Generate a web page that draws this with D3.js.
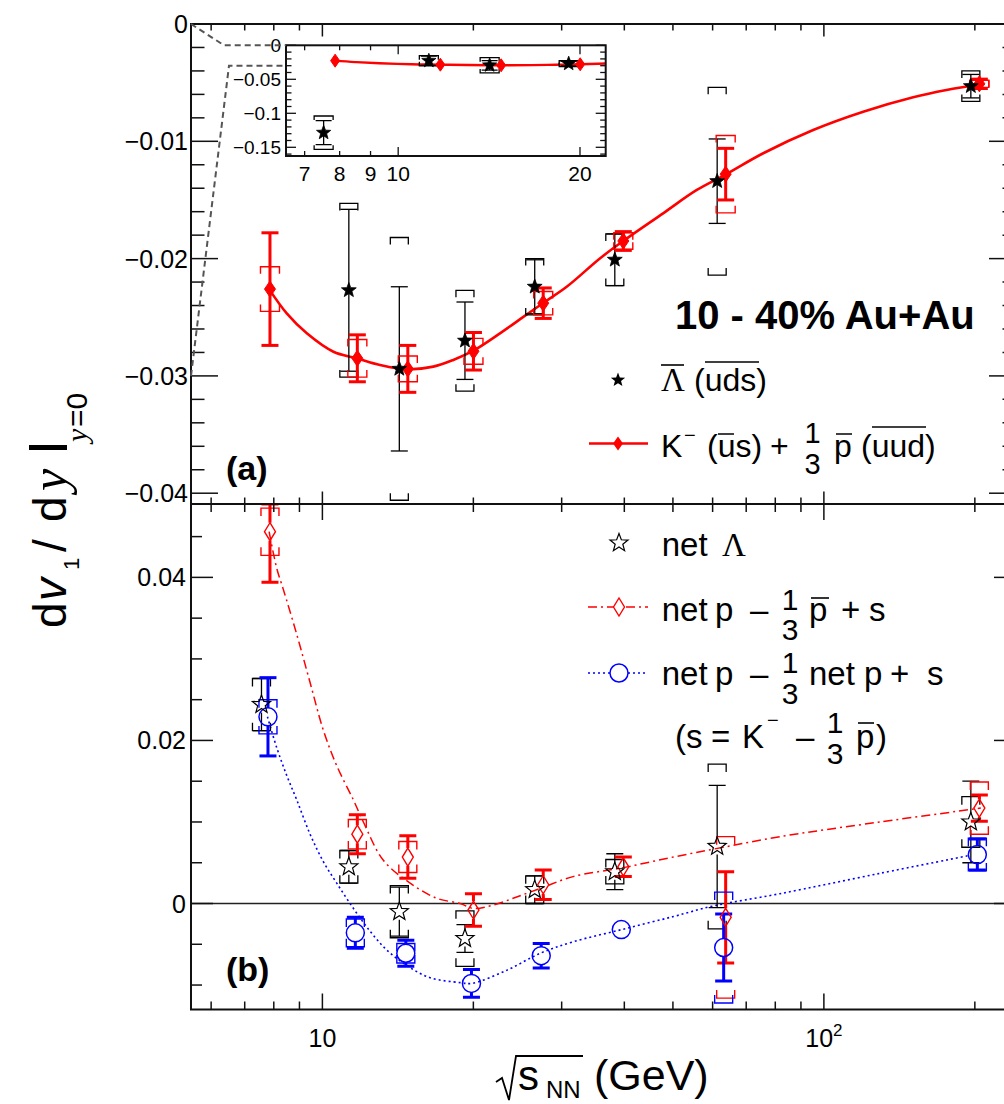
<!DOCTYPE html>
<html><head><meta charset="utf-8">
<script src="https://cdn.jsdelivr.net/npm/d3@7"></script>
<style>body{margin:0;background:#fff}svg{display:block;overflow:hidden}</style>
</head><body><svg id="c" width="1004" height="1104"></svg>
<script>
// ---------------- DATA ----------------
const energies = [7.7, 11.5, 14.5, 19.6, 27, 39, 62.4, 200];
// panel (a): anti-Lambda
const lambdaBar     = [-0.1285, -0.0227, -0.0294, -0.0270, -0.0224, -0.0201, -0.0134, -0.0053];
const lambdaBarStat = [0.0177, 0.0069, 0.0070, 0.0033, 0.0023, 0.0022, 0.0036, 0.0010];
const lambdaBarSys  = [0.0245, 0.0074, 0.0112, 0.0043, 0.0024, 0.0022, 0.0080, 0.0013];
// panel (a): K- + 1/3 pbar
const kPbar     = [-0.0226, -0.0285, -0.0294, -0.0279, -0.0238, -0.0185, -0.0128, -0.0051];
const kPbarStat = [0.0048, 0.0020, 0.0020, 0.0016, 0.0013, 0.0008, 0.0022, 0.0004];
const kPbarSys  = [0.0019, 0.0016, 0.0011, 0.0011, 0.0010, 0.0007, 0.0033, 0.0003];
// panel (a): smooth curve through K- + 1/3 pbar
const fitAE = [7.83, 8.49, 9.31, 10.52, 11.71, 13.03, 14.73, 16.64, 18.24, 20.0, 22.6, 25.2, 27.6, 30.7, 35.8, 39.8, 47.8, 55.8, 63.8, 75.7, 95.2, 119.8, 150.7, 175.6, 205.6];
const fitAV = [-0.0226, -0.02467, -0.02637, -0.02794, -0.0285, -0.02907, -0.02944, -0.02921, -0.02864, -0.02785, -0.02637, -0.02495, -0.02376, -0.0224, -0.01997, -0.0185, -0.01614, -0.01415, -0.01281, -0.01102, -0.00904, -0.00748, -0.00625, -0.00563, -0.00514];
// panel (b): net Lambda
const netLambda     = [0.0244, 0.0045, -0.0010, -0.0043, 0.0017, 0.0039, 0.0070, 0.0100];
const netLambdaStat = [0.0032, 0.0020, 0.0030, 0.0017, 0.0017, 0.0022, 0.0075, 0.0050];
const netLambdaSys  = [0.0032, 0.0020, 0.0032, 0.0034, 0.0017, 0.0015, 0.0101, 0.0031];
// panel (b): net p - 1/3 pbar + s
const netPpbar     = [0.0456, 0.0085, 0.0057, -0.0008, 0.0023, 0.0045, -0.0017, 0.0117];
const netPpbarStat = [0.0062, 0.0024, 0.0026, 0.0020, 0.0018, 0.0012, 0.0056, 0.0016];
const netPpbarSys  = [0.0029, 0.0018, 0.0019, 0.0008, 0.0010, 0.0008, 0.0099, 0.0032];
// panel (b): net p - 1/3 net p + s
const netPnetp     = [0.0229, -0.0036, -0.0061, -0.0098, -0.0064, -0.0032, -0.0054, 0.0060];
const netPnetpStat = [0.0048, 0.0019, 0.0016, 0.0017, 0.0015, 0.0006, 0.0041, 0.0019];
const netPnetpSys  = [0.0021, 0.0017, 0.0012, 0.0006, 0.0006, 0.0004, 0.0068, 0.0020];
// panel (b): curves
const fitRedE = [7.83, 8.11, 8.36, 8.89, 9.45, 10.05, 10.68, 11.53, 12.07, 13.23, 14.96, 16.90, 18.82, 20.0, 21.9, 24.4, 27.6, 31.6, 39.8, 50.1, 63.0, 81.7, 129.3, 205.6];
const fitRedV = [0.0456, 0.0411, 0.0385, 0.0330, 0.0271, 0.0212, 0.0169, 0.0127, 0.0100, 0.0053, 0.0025, 0.00065, 0.0000, -0.0006, -0.0002, 0.0008, 0.0020, 0.0033, 0.0044, 0.0057, 0.0069, 0.0082, 0.0100, 0.0117];
const fitBlueE = [7.77, 8.11, 8.49, 8.89, 9.45, 10.05, 10.68, 11.53, 12.45, 13.44, 14.73, 16.40, 18.82, 19.86, 23.3, 27.2, 31.6, 39.5, 50.1, 60.2, 81.7, 129.3, 195.4];
const fitBlueV = [0.0229, 0.0191, 0.0157, 0.0127, 0.0085, 0.0051, 0.0025, -0.0006, -0.0034, -0.0057, -0.0076, -0.0091, -0.0097, -0.0098, -0.0082, -0.0061, -0.0047, -0.0032, -0.0016, -0.0003, 0.0012, 0.0037, 0.0059];
// ticks
const xMajor = [10, 100];
const xMinor = [6, 7, 8, 9, 20, 30, 40, 50, 60, 70, 80, 90, 200];
const yaMajor = [0, -0.01, -0.02, -0.03, -0.04];
const yaLabels = ["0", "\u22120.01", "\u22120.02", "\u22120.03", "\u22120.04"];
const ybMajor = [0, 0.02, 0.04];
const ybLabels = ["0", "0.02", "0.04"];
const insetXMajor = [10, 20];
const insetXMinor = [7, 8, 9];
const insetXLabels = [[7, "7"], [8, "8"], [9, "9"], [10, "10"], [20, "20"]];
const insetYMajor = [0, -0.05, -0.1, -0.15];
const insetYLabels = ["0", "\u22120.05", "\u22120.1", "\u22120.15"];

// ---------------- LAYOUT ----------------
const FONT = '"Liberation Sans", Arial, Helvetica, sans-serif';
const SERIF = '"Liberation Serif", "Times New Roman", serif';
const RED = "#ff0000", BLUE = "#0000ff", BLACK = "#000";
const L = 191, R = 1016, TA = 24, MID = 504, BB = 1009.5;
const x = d3.scaleLog().domain([5.47, 241.6]).range([L, R]);
const ya = d3.scaleLinear().domain([-0.04092, 0]).range([MID, TA]);
const yb = d3.scaleLinear().domain([-0.0130, 0.0490]).range([BB, MID]);
const IL = 286, IR = 605.7, IT = 45.3, IB = 156;
const xi = d3.scaleLog().domain([6.52, 22.06]).range([IL, IR]);
const yi = d3.scaleLinear().domain([-0.1628, 0]).range([IB, IT]);

const svg = d3.select("#c");
const defs = svg.append("defs");
function clip(id, x0, y0, x1, y1) {
  defs.append("clipPath").attr("id", id).append("rect").attr("x", x0).attr("y", y0).attr("width", x1 - x0).attr("height", y1 - y0);
}
clip("ca", L, TA, R, MID); clip("cb", L, MID, R, BB); clip("ci", IL, IT, IR, IB);

function starPath(Ro, ri) {
  let p = "";
  for (let i = 0; i < 10; i++) {
    const a = -Math.PI / 2 + i * Math.PI / 5, r = i % 2 ? ri : Ro;
    p += (i ? "L" : "M") + (r * Math.cos(a)).toFixed(2) + "," + (r * Math.sin(a)).toFixed(2);
  }
  return p + "Z";
}
const diamondPath = (w, h) => `M0,${-h}L${w},0L0,${h}L${-w},0Z`;

function txt(g, xx, yy, s, o = {}) {
  const e = g.append("text").attr("x", xx).attr("y", yy).text(s)
    .attr("font-family", o.ff || FONT).attr("font-size", o.fs || 33).attr("fill", o.fill || "#000");
  if (o.anchor) e.attr("text-anchor", o.anchor);
  if (o.fw) e.attr("font-weight", o.fw);
  if (o.fst) e.attr("font-style", o.fst);
  if (o.dy) e.attr("dy", o.dy);
  return e;
}
function seg(g, x1, y1, x2, y2, w, c, dash) {
  const e = g.append("line").attr("x1", x1).attr("y1", y1).attr("x2", x2).attr("y2", y2)
    .attr("stroke", c || "#000").attr("stroke-width", w || 1.5);
  if (dash) e.attr("stroke-dasharray", dash);
  return e;
}

// error bars: errors smaller than the marker (gap) are hidden, as in the original
function drawErrors(g, xs, ys, E, V, S, Y, o) {
  const [d0, d1] = ys.domain();
  const cl = v => Math.max(d0, Math.min(d1, v));
  const gap = o.gap || 0;
  E.forEach((e, i) => {
    const v = V[i];
    if (v < d0 || v > d1) return;
    const cx = xs(e) + o.dx, cy = ys(v);
    if (Y) {
      const s = Y[i], hw = o.sysHalf, leg = o.leg;
      const yt = ys(v + s), ybt = ys(v - s);
      if (cy - yt > gap) {
        g.append("path").attr("d", `M${cx - hw},${yt + leg}V${yt}H${cx + hw}V${yt + leg}`)
          .attr("fill", "none").attr("stroke", o.color).attr("stroke-width", o.sysW);
        g.append("path").attr("d", `M${cx - hw},${ybt - leg}V${ybt}H${cx + hw}V${ybt - leg}`)
          .attr("fill", "none").attr("stroke", o.color).attr("stroke-width", o.sysW);
      }
    }
    const s = S[i], yT = ys(cl(v + s)), yB = ys(cl(v - s));
    if (cy - yT <= gap && yB - cy <= gap && gap > 0) return;
    if (cy - gap > yT) seg(g, cx, yT, cx, cy - gap, o.statW, o.color);
    if (cy + gap < yB) seg(g, cx, cy + gap, cx, yB, o.statW, o.color);
    seg(g, cx - o.cap, yT, cx + o.cap, yT, o.statW, o.color);
    seg(g, cx - o.cap, yB, cx + o.cap, yB, o.statW, o.color);
  });
}
function drawMarkers(g, xs, ys, E, V, o) {
  const [d0, d1] = ys.domain();
  E.forEach((e, i) => {
    const v = V[i];
    if (v < d0 || v > d1) return;
    const cx = xs(e) + o.dx, cy = ys(v);
    let el;
    if (o.type === "circle") el = g.append("circle").attr("cx", cx).attr("cy", cy).attr("r", o.r);
    else el = g.append("path").attr("transform", `translate(${cx},${cy})`).attr("d", o.type === "star" ? starPath(o.r, o.r * 0.42) : diamondPath(o.w, o.h));
    el.attr("fill", o.fill).attr("stroke", o.color).attr("stroke-width", o.sw || 1.3);
  });
}
const curve = (xs, ys) => d3.line().x(d => xs(d[0])).y(d => ys(d[1])).curve(d3.curveCatmullRom.alpha(0.5));

// ---------------- PANEL A ----------------
const ga = svg.append("g").attr("clip-path", "url(#ca)");
ga.append("path").datum(d3.zip(fitAE, fitAV)).attr("d", curve(x, ya)).attr("fill", "none").attr("stroke", RED).attr("stroke-width", 2.6);
drawErrors(ga, x, ya, energies, lambdaBar, lambdaBarStat, lambdaBarSys, {dx: -4, color: BLACK, statW: 1.3, cap: 8.5, sysHalf: 9, leg: 7, sysW: 1.3});
drawErrors(ga, x, ya, energies, kPbar, kPbarStat, kPbarSys, {dx: 4.5, color: RED, statW: 3, cap: 8.5, sysHalf: 9.5, leg: 7, sysW: 1.4});
drawMarkers(ga, x, ya, energies, kPbar, {dx: 4.5, type: "diamond", w: 5.5, h: 8, fill: RED, color: RED, sw: 1});
drawMarkers(ga, x, ya, energies, lambdaBar, {dx: -4, type: "star", r: 7.8, fill: BLACK, color: BLACK, sw: 0.8});

// ---------------- PANEL B ----------------
const gb = svg.append("g").attr("clip-path", "url(#cb)");
seg(gb, L, yb(0), R, yb(0), 1.6, "#222");
gb.append("path").datum(d3.zip(fitRedE, fitRedV)).attr("d", curve(x, yb)).attr("fill", "none").attr("stroke", RED).attr("stroke-width", 1.5).attr("stroke-dasharray", "9,4,2,4");
gb.append("path").datum(d3.zip(fitBlueE, fitBlueV)).attr("d", curve(x, yb)).attr("fill", "none").attr("stroke", BLUE).attr("stroke-width", 1.6).attr("stroke-dasharray", "2,3");
drawErrors(gb, x, yb, energies, netLambda, netLambdaStat, netLambdaSys, {dx: -4, color: BLACK, statW: 1.3, cap: 8.5, sysHalf: 9, leg: 8, sysW: 1.3, gap: 8});
drawErrors(gb, x, yb, energies, netPpbar, netPpbarStat, netPpbarSys, {dx: 4.5, color: RED, statW: 3, cap: 8.5, sysHalf: 9, leg: 8, sysW: 1.4, gap: 9});
drawErrors(gb, x, yb, energies, netPnetp, netPnetpStat, netPnetpSys, {dx: 2.5, color: BLUE, statW: 3, cap: 8.5, sysHalf: 9, leg: 8, sysW: 1.4, gap: 9});
drawMarkers(gb, x, yb, energies, netPnetp, {dx: 2.5, type: "circle", r: 9, fill: "none", color: BLUE, sw: 1.5});
drawMarkers(gb, x, yb, energies, netPpbar, {dx: 4.5, type: "diamond", w: 5.5, h: 9, fill: "none", color: RED, sw: 1.4});
drawMarkers(gb, x, yb, energies, netLambda, {dx: -4, type: "star", r: 9.5, fill: "none", color: BLACK, sw: 1.2});

// ---------------- FRAMES & AXES ----------------
const gx = svg.append("g");
gx.append("rect").attr("x", L).attr("y", TA).attr("width", R - L).attr("height", BB - TA).attr("fill", "none").attr("stroke", "#111").attr("stroke-width", 2);
seg(gx, L, MID, R, MID, 2, "#111");
function xTicks(yy, dir, lmin, lmaj) {
  xMinor.forEach(t => seg(gx, x(t), yy, x(t), yy + dir * lmin, 1.5, "#111"));
  xMajor.forEach(t => seg(gx, x(t), yy, x(t), yy + dir * lmaj, 1.5, "#111"));
}
xTicks(TA, 1, 6.5, 12.5); xTicks(MID, -1, 6.5, 12.5);
xTicks(MID, 1, 8, 16); xTicks(BB, -1, 8, 16);
for (let k = 0; k <= 20; k++) {
  const v = -k * 0.002, maj = k % 5 === 0, len = maj ? 27 : 13.5;
  seg(gx, L, ya(v), L + len, ya(v), 1.5, "#111");
  seg(gx, R, ya(v), R - len, ya(v), 1.5, "#111");
}
yaMajor.forEach((v, i) => txt(gx, 188, ya(v), yaLabels[i], {fs: 25, anchor: "end", dy: "0.36em"}));
for (let k = -2; k <= 9; k++) {
  const v = k * 0.005, maj = k % 4 === 0, len = maj ? 22 : 11;
  seg(gx, L, yb(v), L + len, yb(v), 1.5, "#111");
  seg(gx, R, yb(v), R - len, yb(v), 1.5, "#111");
}
ybMajor.forEach((v, i) => txt(gx, 186, yb(v), ybLabels[i], {fs: 25, anchor: "end", dy: "0.36em"}));
txt(gx, x(10), 1047, "10", {fs: 25, anchor: "middle"});
const l100 = txt(gx, x(100), 1047, "10", {fs: 25, anchor: "middle"});
l100.append("tspan").attr("font-size", 17).attr("dy", -11).text("2");

// x title
svg.append("path").attr("d", "M496,1082L502,1078L509,1100L516,1056L583,1056").attr("fill", "none").attr("stroke", "#000").attr("stroke-width", 1.8);
txt(svg, 518, 1090, "s", {fs: 42});
txt(svg, 546, 1098, "NN", {fs: 24});
txt(svg, 594, 1090, "(GeV)", {fs: 43});

// y title (rotated)
const gy = svg.append("g").attr("transform", "translate(66,628) rotate(-90)");
txt(gy, 0, 0, "d", {fs: 46});
txt(gy, 27, 0, "v", {fs: 46, fst: "italic"});
txt(gy, 58, 13, "1", {fs: 22});
txt(gy, 76, 0, "/", {fs: 46});
txt(gy, 106, 0, "d", {fs: 46});
txt(gy, 137, 0, "y", {fs: 50, ff: SERIF, fst: "italic"});
gy.append("rect").attr("x", 178).attr("y", -37).attr("width", 5).attr("height", 38).attr("fill", "#000");
txt(gy, 186, 21, "y", {fs: 30, ff: SERIF, fst: "italic"});
txt(gy, 201, 21, "=0", {fs: 30});

// panel labels
txt(svg, 226, 480, "(a)", {fs: 34, fw: "bold"});
txt(svg, 226, 981, "(b)", {fs: 34, fw: "bold"});

// ---------------- INSET ----------------
const gIn = svg.append("g");
gIn.append("rect").attr("x", IL).attr("y", IT).attr("width", IR - IL).attr("height", IB - IT).attr("fill", "#fff");
const gic = gIn.append("g").attr("clip-path", "url(#ci)");
gic.append("path").datum(d3.zip(fitAE, fitAV)).attr("d", curve(xi, yi)).attr("fill", "none").attr("stroke", RED).attr("stroke-width", 2.4);
drawErrors(gic, xi, yi, energies, lambdaBar, lambdaBarStat, lambdaBarSys, {dx: -6, color: BLACK, statW: 1.3, cap: 8, sysHalf: 9.5, leg: 4, sysW: 1.3});
drawMarkers(gic, xi, yi, energies, kPbar, {dx: 5.5, type: "diamond", w: 4.5, h: 6.5, fill: RED, color: RED, sw: 1});
drawMarkers(gic, xi, yi, energies, lambdaBar, {dx: -6, type: "star", r: 7.5, fill: BLACK, color: BLACK, sw: 0.8});
gIn.append("rect").attr("x", IL).attr("y", IT).attr("width", IR - IL).attr("height", IB - IT).attr("fill", "none").attr("stroke", "#111").attr("stroke-width", 2);
for (let k = 0; k <= 16; k++) {
  const v = -k * 0.01, maj = k % 5 === 0, len = maj ? 10 : 5.5;
  seg(gIn, IL, yi(v), IL + len, yi(v), 1.3, "#111");
  seg(gIn, IR, yi(v), IR - len, yi(v), 1.3, "#111");
}
insetYMajor.forEach((v, i) => txt(gIn, 281, yi(v), insetYLabels[i], {fs: 19, anchor: "end", dy: "0.36em"}));
insetXMinor.forEach(t => { seg(gIn, xi(t), IB, xi(t), IB - 5, 1.3, "#111"); seg(gIn, xi(t), IT, xi(t), IT + 5, 1.3, "#111"); });
insetXMajor.forEach(t => { seg(gIn, xi(t), IB, xi(t), IB - 9, 1.3, "#111"); seg(gIn, xi(t), IT, xi(t), IT + 9, 1.3, "#111"); });
insetXLabels.forEach(([t, s]) => txt(gIn, xi(t), 181, s, {fs: 21, anchor: "middle"}));

// zoom connector lines
svg.append("path").attr("d", `M${L},${ya(0)}L224,${yi(0)}L${IL},${yi(0)}`).attr("fill", "none").attr("stroke", "#555").attr("stroke-width", 2).attr("stroke-dasharray", "6,4");
svg.append("path").attr("d", `M${L},${ya(-0.03)}L229,${yi(-0.03)}L${IL},${yi(-0.03)}`).attr("fill", "none").attr("stroke", "#555").attr("stroke-width", 2).attr("stroke-dasharray", "6,4");

// ---------------- LEGEND A ----------------
const lg = svg.append("g");
txt(lg, 675, 329, "10 - 40% Au+Au", {fs: 40, fw: "bold"});
lg.append("path").attr("transform", "translate(618,380)").attr("d", starPath(7.5, 3.2)).attr("fill", "#000");
txt(lg, 661, 391, "\u039B", {fs: 33, ff: SERIF});
seg(lg, 661, 365, 684, 365, 1.6);
txt(lg, 694, 391, "(uds)", {fs: 32});
seg(lg, 705, 362, 759, 362, 1.6);
seg(lg, 589, 443.5, 648, 443.5, 2.6, RED);
lg.append("path").attr("transform", "translate(618,443.5)").attr("d", diamondPath(5, 7)).attr("fill", RED);
txt(lg, 661, 457, "K", {fs: 32});
txt(lg, 684, 442, "\u2212", {fs: 20});
txt(lg, 707, 457, "(us)", {fs: 32});
seg(lg, 718, 434, 734, 434, 1.5);
txt(lg, 770, 457, "+", {fs: 32});
txt(lg, 812.5, 443, "1", {fs: 29, anchor: "middle"});
txt(lg, 812.5, 474, "3", {fs: 29, anchor: "middle"});
txt(lg, 834, 457, "p", {fs: 32});
seg(lg, 836, 434, 852, 434, 1.5);
txt(lg, 861, 457, "(uud)", {fs: 32});
seg(lg, 872, 427, 926, 427, 1.6);

// ---------------- LEGEND B ----------------
lg.append("path").attr("transform", "translate(619,543)").attr("d", starPath(9.5, 4)).attr("fill", "none").attr("stroke", "#000").attr("stroke-width", 1.2);
txt(lg, 661.7, 556, "net", {fs: 33});
txt(lg, 722, 556, "\u039B", {fs: 33, ff: SERIF});

seg(lg, 588, 607, 648, 607, 1.5, RED, "9,4,2,4");
lg.append("path").attr("transform", "translate(619,607)").attr("d", diamondPath(5.5, 9)).attr("fill", "#fff").attr("stroke", RED).attr("stroke-width", 1.4);
txt(lg, 661.7, 621, "net", {fs: 33});
txt(lg, 715, 621, "p", {fs: 33});
txt(lg, 750, 621, "\u2013", {fs: 33});
txt(lg, 790, 610, "1", {fs: 30, anchor: "middle"});
txt(lg, 790, 640, "3", {fs: 30, anchor: "middle"});
txt(lg, 809, 621, "p", {fs: 33});
seg(lg, 811, 598, 829, 598, 1.6);
txt(lg, 841, 621, "+", {fs: 33});
txt(lg, 869, 621, "s", {fs: 33});

seg(lg, 588, 673, 648, 673, 1.6, BLUE, "2,3");
lg.append("circle").attr("cx", 619).attr("cy", 673).attr("r", 9).attr("fill", "#fff").attr("stroke", BLUE).attr("stroke-width", 1.5);
txt(lg, 661.7, 685, "net", {fs: 33});
txt(lg, 715, 685, "p", {fs: 33});
txt(lg, 750, 685, "\u2013", {fs: 33});
txt(lg, 790, 673, "1", {fs: 30, anchor: "middle"});
txt(lg, 790, 704, "3", {fs: 30, anchor: "middle"});
txt(lg, 809, 685, "net", {fs: 33});
txt(lg, 864, 685, "p", {fs: 33});
txt(lg, 890, 685, "+", {fs: 33});
txt(lg, 927, 685, "s", {fs: 33});

txt(lg, 675, 748, "(", {fs: 33});
txt(lg, 686, 748, "s", {fs: 33});
txt(lg, 711, 748, "=", {fs: 33});
txt(lg, 742, 748, "K", {fs: 33});
txt(lg, 767, 727, "\u2212", {fs: 20});
txt(lg, 796, 748, "\u2013", {fs: 33});
txt(lg, 835, 733, "1", {fs: 30, anchor: "middle"});
txt(lg, 835, 764, "3", {fs: 30, anchor: "middle"});
txt(lg, 856, 748, "p", {fs: 33});
seg(lg, 858, 723, 874, 723, 1.6);
txt(lg, 876, 748, ")", {fs: 33});
</script></body></html>
